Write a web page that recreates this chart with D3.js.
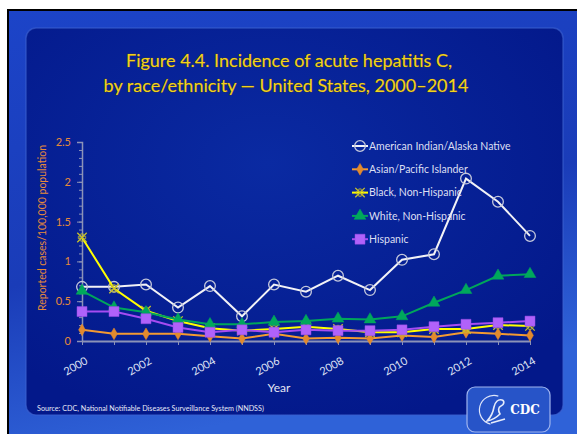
<!DOCTYPE html>
<html>
<head>
<meta charset="utf-8">
<script src="https://cdn.jsdelivr.net/npm/d3@7"></script>
<style>
  html, body { margin: 0; padding: 0; background: #fff; }
  svg { display: block; font-family: Lato, "Open Sans", sans-serif; }
</style>
</head>
<body>
<div id="chart"></div>
<script>
// Incidence of acute hepatitis C by race/ethnicity, 2000-2014

const years = [2000, 2001, 2002, 2003, 2004, 2005, 2006, 2007, 2008, 2009, 2010, 2011, 2012, 2013, 2014];
const labelYears = [2000, 2002, 2004, 2006, 2008, 2010, 2012, 2014];
const yTicks = [0, 0.5, 1, 1.5, 2, 2.5];

const seriesNames = ["American Indian/Alaska Native", "Asian/Pacific Islander", "Black, Non-Hispanic",
  "White, Non-Hispanic", "Hispanic"];
const amIndian = [0.68, 0.68, 0.71, 0.42, 0.69, 0.31, 0.71, 0.62, 0.82, 0.64, 1.02, 1.09, 2.04, 1.75, 1.32];
const asianPI  = [0.14, 0.09, 0.09, 0.09, 0.06, 0.03, 0.09, 0.03, 0.04, 0.03, 0.07, 0.05, 0.11, 0.09, 0.07];
const blackNH  = [1.30, 0.66, 0.38, 0.25, 0.16, 0.13, 0.15, 0.18, 0.15, 0.11, 0.11, 0.15, 0.15, 0.20, 0.19];
const whiteNH  = [0.63, 0.42, 0.36, 0.27, 0.21, 0.21, 0.24, 0.25, 0.28, 0.27, 0.31, 0.48, 0.64, 0.82, 0.84];
const hispanic = [0.37, 0.37, 0.28, 0.17, 0.11, 0.14, 0.11, 0.14, 0.13, 0.13, 0.14, 0.18, 0.21, 0.23, 0.25];

(function drawChart() {
  var W = 577, H = 434;
  var svg = d3.select("#chart").append("svg")
    .attr("width", W).attr("height", H);

  var defs = svg.append("defs");
  var outerGrad = defs.append("linearGradient").attr("id", "outerGrad")
    .attr("x1", 0).attr("y1", 0).attr("x2", 0.3).attr("y2", 1);
  outerGrad.append("stop").attr("offset", "0%").attr("stop-color", "#1c44c8");
  outerGrad.append("stop").attr("offset", "60%").attr("stop-color", "#1a3cb8");
  outerGrad.append("stop").attr("offset", "100%").attr("stop-color", "#2f62d8");

  var innerGrad = defs.append("radialGradient").attr("id", "innerGrad")
    .attr("cx", "45%").attr("cy", "35%").attr("r", "70%");
  innerGrad.append("stop").attr("offset", "0%").attr("stop-color", "#0a2aa2");
  innerGrad.append("stop").attr("offset", "100%").attr("stop-color", "#03188a");

  // slide background
  svg.append("rect").attr("x", 7).attr("y", 9).attr("width", W - 7).attr("height", H - 9)
    .attr("fill", "#000");
  svg.append("rect").attr("x", 9).attr("y", 11).attr("width", W - 9).attr("height", H - 11)
    .attr("fill", "url(#outerGrad)");
  svg.append("rect").attr("x", 26).attr("y", 28).attr("width", 537).attr("height", 387)
    .attr("rx", 10)
    .attr("fill", "url(#innerGrad)")
    .attr("stroke", "#3d62d0").attr("stroke-opacity", 0.6).attr("stroke-width", 1.5);

  // title
  var title = svg.append("text")
    .attr("x", 289).attr("y", 67)
    .attr("text-anchor", "middle")
    .attr("fill", "#f2d21c")
    .attr("font-size", "18px")
    .style("paint-order", "stroke")
    .attr("stroke", "#5a4a10").attr("stroke-width", 0.6);
  title.append("tspan").attr("x", 289).attr("dy", 0).text("Figure 4.4. Incidence of acute hepatitis C,");
  title.append("tspan").attr("x", 286).attr("dy", 25).text("by race/ethnicity \u2014 United States, 2000\u20132014");

  var xScale = d3.scaleLinear().domain([2000, 2014]).range([82, 530]),
      yScale = d3.scaleLinear().domain([0, 2.5]).range([341, 142]);

  var axisColor = "#8c93b8";

  // y axis minor + major ticks
  var yMinor = svg.append("g").attr("transform", "translate(82,0)")
    .call(d3.axisLeft(yScale).ticks(25).tickSize(3).tickFormat(""));
  yMinor.select(".domain").remove();
  yMinor.selectAll("line").attr("stroke", axisColor);

  var yAxis = svg.append("g").attr("transform", "translate(82,0)")
    .call(d3.axisLeft(yScale).tickValues(yTicks).tickSize(5).tickPadding(6).tickFormat(d3.format("")));
  yAxis.select(".domain").attr("stroke", axisColor).attr("stroke-width", 1.5);
  yAxis.selectAll("line").attr("stroke", axisColor);
  yAxis.selectAll("text").attr("fill", "#e58a3a").attr("font-size", "11px")
    .attr("font-family", "Lato, sans-serif");

  svg.append("text")
    .attr("transform", "translate(46,228) rotate(-90)")
    .attr("text-anchor", "middle")
    .attr("fill", "#e58a3a")
    .attr("font-size", "10.5px")
    .text("Reported cases/100,000 population");

  // x axis
  var xAxis = svg.append("g").attr("transform", "translate(0,341)")
    .call(d3.axisBottom(xScale).tickValues(years).tickSize(4).tickSizeOuter(0)
      .tickFormat(function (d) { return labelYears.includes(d) ? d : ""; }));
  xAxis.select(".domain").attr("stroke", axisColor).attr("stroke-width", 2);
  xAxis.selectAll("line").attr("stroke", axisColor);
  xAxis.selectAll("text")
    .attr("fill", "#dfe2f4").attr("font-size", "11px")
    .attr("font-family", "Lato, sans-serif")
    .attr("text-anchor", "end")
    .attr("y", 0).attr("dy", 0)
    .attr("transform", "translate(6,22) rotate(-30)");

  svg.append("text")
    .attr("x", 279).attr("y", 392)
    .attr("text-anchor", "middle")
    .attr("fill", "#e4e6f4")
    .attr("font-size", "12px")
    .text("Year");

  // series
  var styles = [
    { line: "#f2f2f6", marker: "circle", fill: "none", stroke: "#c4c8dc" },
    { line: "#f39a32", marker: "diamond", fill: "#e28a2e", stroke: "#e28a2e" },
    { line: "#ffff00", marker: "star", fill: "none", stroke: "#c9c22a" },
    { line: "#00a65a", marker: "triangle", fill: "#00a85c", stroke: "#00a85c" },
    { line: "#a64cf2", marker: "square", fill: "#b062fa", stroke: "#9a4ae6" }
  ];
  var allSeries = [amIndian, asianPI, blackNH, whiteNH, hispanic];

  var symbolFor = {
    circle: d3.symbol().type(d3.symbolCircle).size(90),
    diamond: d3.symbol().type(d3.symbolDiamond).size(40),
    star: d3.symbol().type(d3.symbolTimes).size(60),
    triangle: d3.symbol().type(d3.symbolTriangle).size(60),
    square: d3.symbol().type(d3.symbolSquare).size(100)
  };

  var line = d3.line()
    .x(function (d, i) { return xScale(years[i]); })
    .y(function (d) { return yScale(d); });

  function drawMarker(g, st, x, y) {
    if (st.marker === "star") {
      g.append("path").attr("d", symbolFor.star())
        .attr("transform", "translate(" + x + "," + y + ")")
        .attr("fill", "none").attr("stroke", st.stroke).attr("stroke-width", 1.3);
      g.append("path").attr("d", d3.symbol().type(d3.symbolCross).size(30)())
        .attr("transform", "translate(" + x + "," + y + ")")
        .attr("fill", "none").attr("stroke", st.stroke).attr("stroke-width", 0.8);
    } else {
      g.append("path").attr("d", symbolFor[st.marker]())
        .attr("transform", "translate(" + x + "," + y + ")")
        .attr("fill", st.fill).attr("stroke", st.stroke)
        .attr("stroke-width", st.marker === "circle" ? 1.3 : 0.5);
    }
  }

  allSeries.forEach(function (vals, k) {
    var st = styles[k];
    var g = svg.append("g").attr("class", "series");
    g.append("path").datum(vals)
      .attr("d", line)
      .attr("fill", "none")
      .attr("stroke", st.line)
      .attr("stroke-width", 2);
    vals.forEach(function (v, i) {
      drawMarker(g, st, xScale(years[i]), yScale(v));
    });
  });

  // legend
  var legend = svg.append("g");
  seriesNames.forEach(function (name, k) {
    var st = styles[k];
    var ly = 146 + k * 23.3;
    legend.append("line")
      .attr("x1", 352).attr("x2", 368).attr("y1", ly).attr("y2", ly)
      .attr("stroke", st.line).attr("stroke-width", 2);
    drawMarker(legend, st, 360, ly);
    legend.append("text")
      .attr("x", 369).attr("y", ly).attr("dy", "0.35em")
      .attr("fill", "#dcdff2")
      .attr("font-size", "10.5px")
      .text(name);
  });

  // source
  svg.append("text")
    .attr("x", 37).attr("y", 411)
    .attr("fill", "#e6e8f6")
    .attr("font-size", "7.2px")
    .text("Source: CDC, National Notifiable Diseases Surveillance System (NNDSS)");

  // CDC logo
  var logo = svg.append("g").attr("transform", "translate(467,387)");
  logo.append("rect").attr("width", 83).attr("height", 45).attr("rx", 8)
    .attr("fill", "#2754c8").attr("stroke", "#9fb4ee").attr("stroke-width", 1.2);
  logo.append("path")
    .attr("d", d3.arc()({ innerRadius: 14, outerRadius: 15.2, startAngle: -2.9, endAngle: 0.3 }))
    .attr("transform", "translate(27,23)")
    .attr("fill", "#dfe6fa");
  logo.append("path")
    .attr("d", "M20,34 C24,30 26,26 27,20 C28,15 31,12 35,13 C38,14 37,18 34,19 C31,20 31,24 33,27 C30,30 26,33 20,34 Z M24,36 L38,32")
    .attr("fill", "none").attr("stroke", "#e6ecfb").attr("stroke-width", 1.6);
  logo.append("text")
    .attr("x", 58).attr("y", 27)
    .attr("text-anchor", "middle")
    .attr("fill", "#ffffff")
    .attr("font-weight", "bold")
    .attr("font-size", "12px")
    .attr("font-family", "'DejaVu Serif', serif")
    .text("CDC");
})();
</script>
</body>
</html>
